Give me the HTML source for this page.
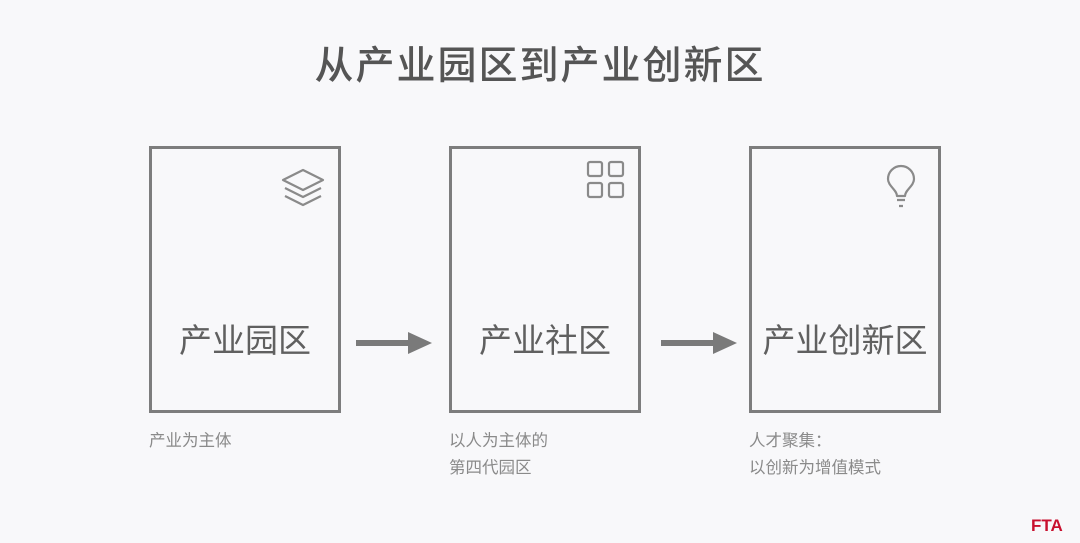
<!DOCTYPE html>
<html><head><meta charset="utf-8"><style>
body{margin:0;width:1080px;height:543px;background:#f8f8fa;position:relative;overflow:hidden;font-family:"Liberation Sans","Noto Sans CJK SC",sans-serif;}
.t{position:absolute;left:0;width:1080px;top:35px;text-align:center;font-size:39px;font-weight:500;color:#555;letter-spacing:2px;}
.b{position:absolute;top:146px;width:186px;height:261px;border:3px solid #7d7d7d;}
.l{position:absolute;top:314px;width:192px;text-align:center;font-size:33px;color:#606060;}
.c{position:absolute;font-size:16.5px;color:#8a8a8a;line-height:27px;}
svg{position:absolute;}
</style></head><body>
<div class="t">从产业园区到产业创新区</div>
<div class="b" style="left:149px"></div>
<div class="b" style="left:449px"></div>
<div class="b" style="left:749px"></div>
<div class="l" style="left:149px">产业园区</div>
<div class="l" style="left:449px">产业社区</div>
<div class="l" style="left:749px">产业创新区</div>
<svg width="1080" height="543" style="left:0;top:0">
<g fill="none" stroke="#8a8a8a" stroke-width="2.2" stroke-linejoin="round">
<path d="M303 170 L323 180 L303 190 L283 180 Z"/>
<path d="M285 188 L303 197 L321 188"/>
<path d="M285 196 L303 205 L321 196"/>
<rect x="588" y="162" width="14" height="14" rx="2"/>
<rect x="609" y="162" width="14" height="14" rx="2"/>
<rect x="588" y="183" width="14" height="14" rx="2"/>
<rect x="609" y="183" width="14" height="14" rx="2"/>
<path d="M897 196 C897 190 888 186 888 179 A13 13 0 0 1 914 179 C914 186 905 190 905 196 Z"/>
<path d="M897 200 H905 M899 206 H903"/>
</g>
<g fill="#7a7a7a">
<rect x="356" y="340" width="55" height="6"/>
<polygon points="408,332 432,343 408,354"/>
<rect x="661" y="340" width="55" height="6"/>
<polygon points="713,332 737,343 713,354"/>
</g>
<text x="1031" y="531" font-family="Liberation Sans" font-weight="bold" font-size="17" fill="#c8102e">FTA</text>
</svg>
<div class="c" style="left:149px;top:428px">产业为主体</div>
<div class="c" style="left:449px;top:428px">以人为主体的<br>第四代园区</div>
<div class="c" style="left:749px;top:428px">人才聚集：<br>以创新为增值模式</div>
</body></html>
